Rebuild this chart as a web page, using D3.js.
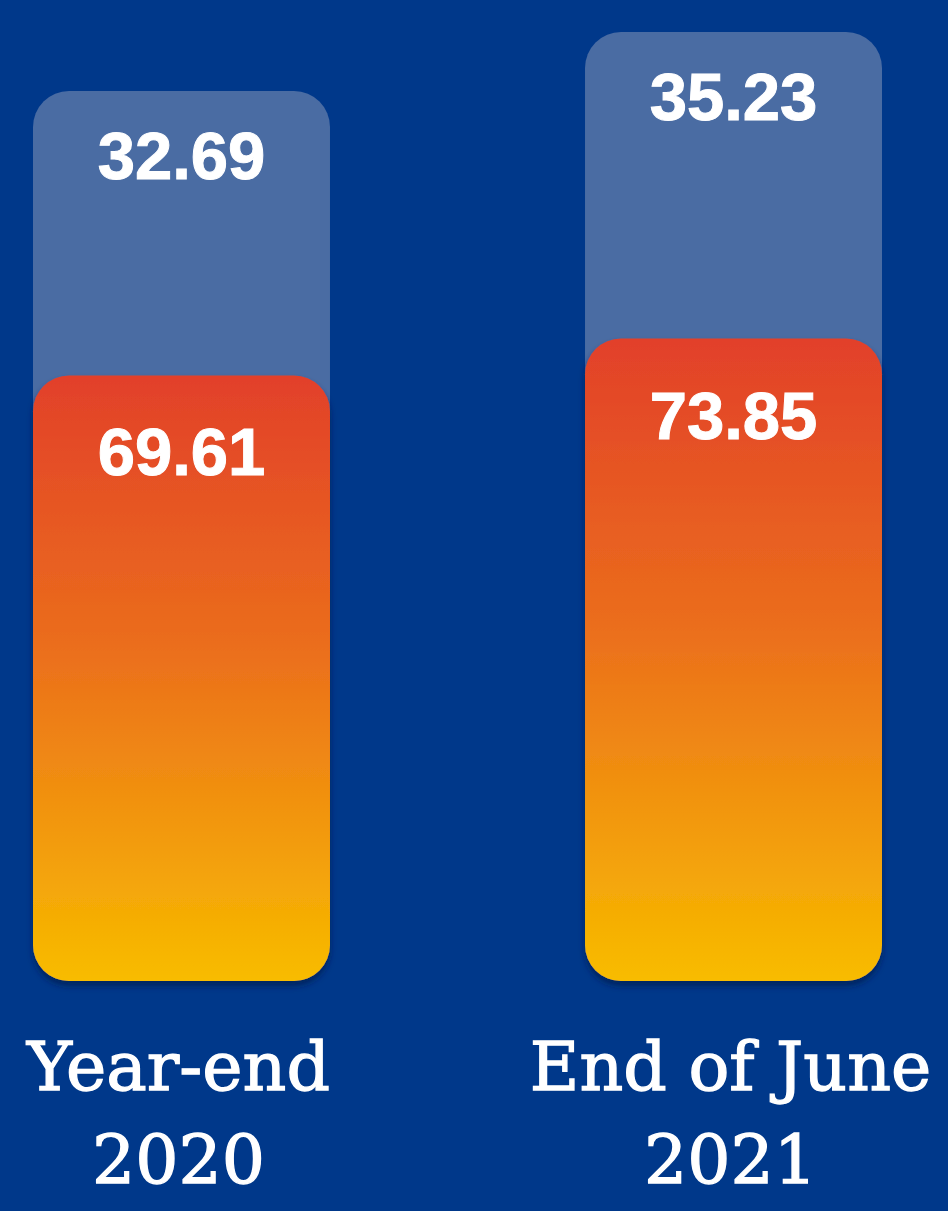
<!DOCTYPE html>
<html>
<head>
<meta charset="utf-8">
<script src="https://cdn.jsdelivr.net/npm/d3@7"></script>
<style>
  html, body { margin: 0; padding: 0; background: #00388a; }
  svg { display: block; }
</style>
</head>
<body>
<div id="chart"></div>
<script>
var svgWidth = 948;
var svgHeight = 1211;

// data
var periods = ["2020", "2021"];
var periodLines = [["Year-end", "2020"], ["End of June", "2021"]];
var lowerValues = [69.61, 73.85];   // orange segment
var upperValues = [32.69, 35.23];   // pale blue segment on top

var margin = { top: 32, right: 66, bottom: 230, left: 33 };
var width = svgWidth - margin.left - margin.right;
var height = svgHeight - margin.top - margin.bottom;

var svg = d3.select("#chart")
    .append("svg")
    .attr("width", svgWidth)
    .attr("height", svgHeight);

svg.append("rect")
    .attr("width", svgWidth)
    .attr("height", svgHeight)
    .attr("fill", "#00388a");

var defs = svg.append("defs");

var grad = defs.append("linearGradient")
    .attr("id", "orangeGrad")
    .attr("x1", 0).attr("y1", 0)
    .attr("x2", 0).attr("y2", 1);
grad.append("stop").attr("offset", "0%").attr("stop-color", "#e2402a");
grad.append("stop").attr("offset", "45%").attr("stop-color", "#eb6e1c");
grad.append("stop").attr("offset", "100%").attr("stop-color", "#f8bc00");

var shadow = defs.append("filter")
    .attr("id", "barShadow")
    .attr("x", "-10%").attr("y", "-10%")
    .attr("width", "120%").attr("height", "120%");
shadow.append("feDropShadow")
    .attr("dx", 0).attr("dy", 5)
    .attr("stdDeviation", 3)
    .attr("flood-color", "#001b4d")
    .attr("flood-opacity", 0.7);

var chartGroup = svg.append("g")
    .attr("transform", `translate(${margin.left}, ${margin.top})`);

var data = periods.map((p, i) => ({
    period: p,
    lines: periodLines[i],
    lower: lowerValues[i],
    upper: upperValues[i],
    total: lowerValues[i] + upperValues[i]
}));

var xBandScale = d3.scaleBand()
    .domain(periods)
    .range([0, width])
    .paddingInner(0.462)
    .paddingOuter(0);

var yLinearScale = d3.scaleLinear()
    .domain([0, d3.max(data, d => d.total)])
    .range([height, 0]);

var r = 36;

// back bar (total)
chartGroup.selectAll(".backBar")
    .data(data)
    .enter()
    .append("rect")
    .attr("class", "backBar")
    .attr("x", d => xBandScale(d.period))
    .attr("y", d => yLinearScale(d.total))
    .attr("width", xBandScale.bandwidth())
    .attr("height", d => height - yLinearScale(d.total))
    .attr("rx", r)
    .attr("fill", "#4a6ca3");

// front bar (lower segment)
chartGroup.selectAll(".frontBar")
    .data(data)
    .enter()
    .append("rect")
    .attr("class", "frontBar")
    .attr("x", d => xBandScale(d.period))
    .attr("y", d => yLinearScale(d.lower))
    .attr("width", xBandScale.bandwidth())
    .attr("height", d => height - yLinearScale(d.lower))
    .attr("rx", r)
    .attr("fill", "url(#orangeGrad)")
    .attr("filter", "url(#barShadow)");

var fmt = d3.format(".2f");

function valueLabel(sel) {
    sel.attr("text-anchor", "middle")
        .attr("fill", "#ffffff")
        .attr("stroke", "#ffffff")
        .attr("stroke-width", 1)
        .style("font-family", "'Liberation Sans', Arial, sans-serif")
        .style("font-weight", "bold")
        .style("font-size", "67px");
}

// value labels
chartGroup.selectAll(".upperLabel")
    .data(data)
    .enter()
    .append("text")
    .attr("class", "upperLabel")
    .attr("x", d => xBandScale(d.period) + xBandScale.bandwidth() / 2)
    .attr("y", d => yLinearScale(d.total) + 88)
    .call(valueLabel)
    .text(d => fmt(d.upper));

chartGroup.selectAll(".lowerLabel")
    .data(data)
    .enter()
    .append("text")
    .attr("class", "lowerLabel")
    .attr("x", d => xBandScale(d.period) + xBandScale.bandwidth() / 2)
    .attr("y", d => yLinearScale(d.lower) + 100)
    .call(valueLabel)
    .text(d => fmt(d.lower));

// category labels under the bars
var catLabels = chartGroup.selectAll(".catLabel")
    .data(data)
    .enter()
    .append("text")
    .attr("class", "catLabel")
    .attr("x", d => xBandScale(d.period) + xBandScale.bandwidth() / 2 - 3)
    .attr("y", height + 109)
    .attr("text-anchor", "middle")
    .attr("fill", "#ffffff")
    .attr("stroke", "#ffffff")
    .attr("stroke-width", 1.3)
    .style("font-family", "'DejaVu Serif', serif")
    .style("font-size", "68px");

catLabels.selectAll("tspan")
    .data(d => d.lines)
    .enter()
    .append("tspan")
    .attr("x", function() { return d3.select(this.parentNode).attr("x"); })
    .attr("dy", (d, i) => i === 0 ? 0 : 93)
    .text(d => d);
</script>
</body>
</html>
